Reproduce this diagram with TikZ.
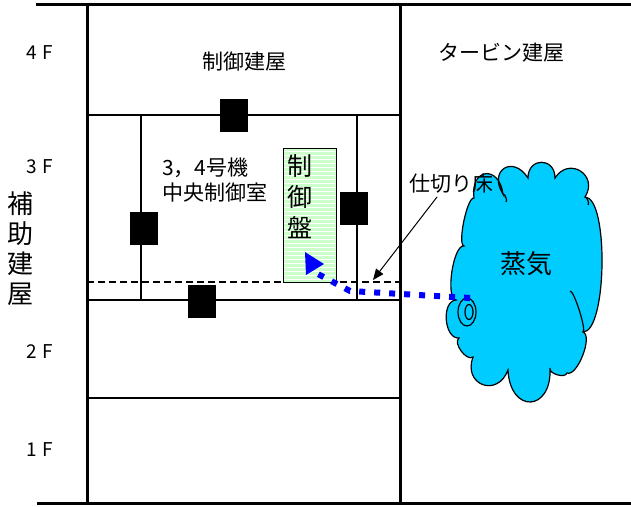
\documentclass[tikz,border=0pt]{standalone}
\usepackage{fontspec}
\setmainfont{Noto Sans CJK JP}
\usetikzlibrary{arrows.meta,calc}
\definecolor{steam}{RGB}{0,204,255}
\definecolor{panelgreen}{RGB}{204,255,204}
\begin{document}
\begin{tikzpicture}[x=1pt,y=-1pt,
  wall/.style={line width=3pt},
  slab/.style={line width=1.5pt},
  damper/.style={fill=black,draw=none,minimum width=28pt,minimum height=33pt,inner sep=0pt},
  floorlbl/.style={font=\fontsize{19}{19}\selectfont,inner sep=0pt},
  lbl/.style={font=\fontsize{21}{25}\selectfont,inner sep=0pt},
  bump/.style={to path={.. controls ($(\tikztostart)!#1!90:(\tikztotarget)$) and ($(\tikztotarget)!#1!-90:(\tikztostart)$) .. (\tikztotarget)}}
]
\useasboundingbox (0,0) rectangle (631,506);

% building outline
\draw[wall] (36,4) -- (631,4);
\draw[wall] (37,503) -- (631,503);
\draw[wall] (87,4) -- (87,503);
\draw[wall] (400,4) -- (400,503);
% floors and room walls
\draw[slab] (87,115) -- (400,115);
\draw[slab] (87,300) -- (400,300);
\draw[slab] (87,398) -- (400,398);
\draw[slab] (141,115) -- (141,300);
\draw[slab] (357,115) -- (357,300);
\draw[line width=1.2pt, dash pattern=on 7pt off 4pt] (87,282) -- (400,282);

% dampers
\node[damper] (sqtop) at (234,115.5) {};
\node[damper] (sqleft) at (144,228.5) {};
\node[damper] (sqbottom) at (202,301.5) {};
\node[damper] (sqright) at (354,208) {};

% control panel
\node[draw, line width=1pt, fill=panelgreen, minimum width=53pt, minimum height=134pt, inner sep=0pt] (panel) at (309.5,215) {};
\foreach \yy in {151,155,...,279} \draw[white, line width=0.8pt] (284,\yy) -- (335,\yy);
\node[font=\fontsize{25}{31}\selectfont, align=center, inner sep=0pt] (paneltext) at (300,197) {制\\御\\盤};

% steam cloud
\coordinate (c1) at (459,338);
\coordinate (c2) at (456,300);
\coordinate (c3) at (464,246);
\coordinate (c4) at (474,198);
\coordinate (c5) at (503,194);
\coordinate (c6) at (528,178);
\coordinate (c7) at (555,178);
\coordinate (c8) at (585,197);
\coordinate (c9) at (583,332);
\coordinate (c10) at (567,373);
\coordinate (c11) at (550,368);
\coordinate (c12) at (508,370);
\coordinate (c13) at (473,357);
\draw[fill=steam, line width=1.2pt]
  (c1) to[bump=15pt] (c2) to[bump=11pt] (c3) to[bump=7pt] (c4)
  to[bump=30pt] (c5) to[bump=28pt] (c6) to[bump=21pt] (c7) to[bump=26pt] (c8)
  to[bump=24pt] (c9) to[bump=11pt] (c10) to[bump=6pt] (c11)
  to[bump=44pt] (c12) to[bump=30pt] (c13) to[bump=8pt] (c1) -- cycle;
% inner folds of the cloud
\draw[line width=1.2pt] (570,291) to[bump=4pt] (583,332);
\draw[line width=1.2pt] (503,194) to[bump=2pt] (506,202);
\draw[line width=1.2pt] (585,197) to[bump=2pt] (588,205);
\draw[fill=steam, line width=1.2pt] (467,312) ellipse [x radius=9pt, y radius=14pt];
\draw[line width=1.2pt] (469,312) ellipse [x radius=4pt, y radius=7.5pt];
\node[font=\fontsize{26}{26}\selectfont, inner sep=0pt] (steamlbl) at (526,264) {蒸気};

% leak path into the control panel
\coordinate (vent) at (470,298);
\coordinate (panelin) at (316,273);
\draw[blue, line width=6pt, dash pattern=on 6pt off 9pt] (vent) -- (350,291) -- (panelin);
\fill[blue] (305,252) -- (324,264) -- (306,275) -- cycle;

% labels
\node[floorlbl] (f4) at (40,53) {4\hspace{5pt}F};
\node[floorlbl] (f3) at (40,167) {3\hspace{5pt}F};
\node[floorlbl] (f2) at (40,352) {2\hspace{5pt}F};
\node[floorlbl] (f1) at (40,450) {1\hspace{5pt}F};
\node[font=\fontsize{26}{30}\selectfont, align=center, inner sep=0pt] (aux) at (20,249) {補\\助\\建\\屋};
\node[lbl] (ctrlbldg) at (244,62) {制御建屋};
\node[lbl] (turbine) at (501,53) {タービン建屋};
\node[lbl, align=left, anchor=west] (mcr) at (162,180) {3，4号機\\中央制御室};
\node[lbl] (partlabel) at (451,184) {仕切り床};

% leader to the partition floor
\coordinate (leadstart) at (437,197);
\coordinate (leadend) at (373,280);
\draw[line width=1pt, -{Triangle[length=11pt,width=9pt]}] (leadstart) -- (leadend);
\end{tikzpicture}
\end{document}
